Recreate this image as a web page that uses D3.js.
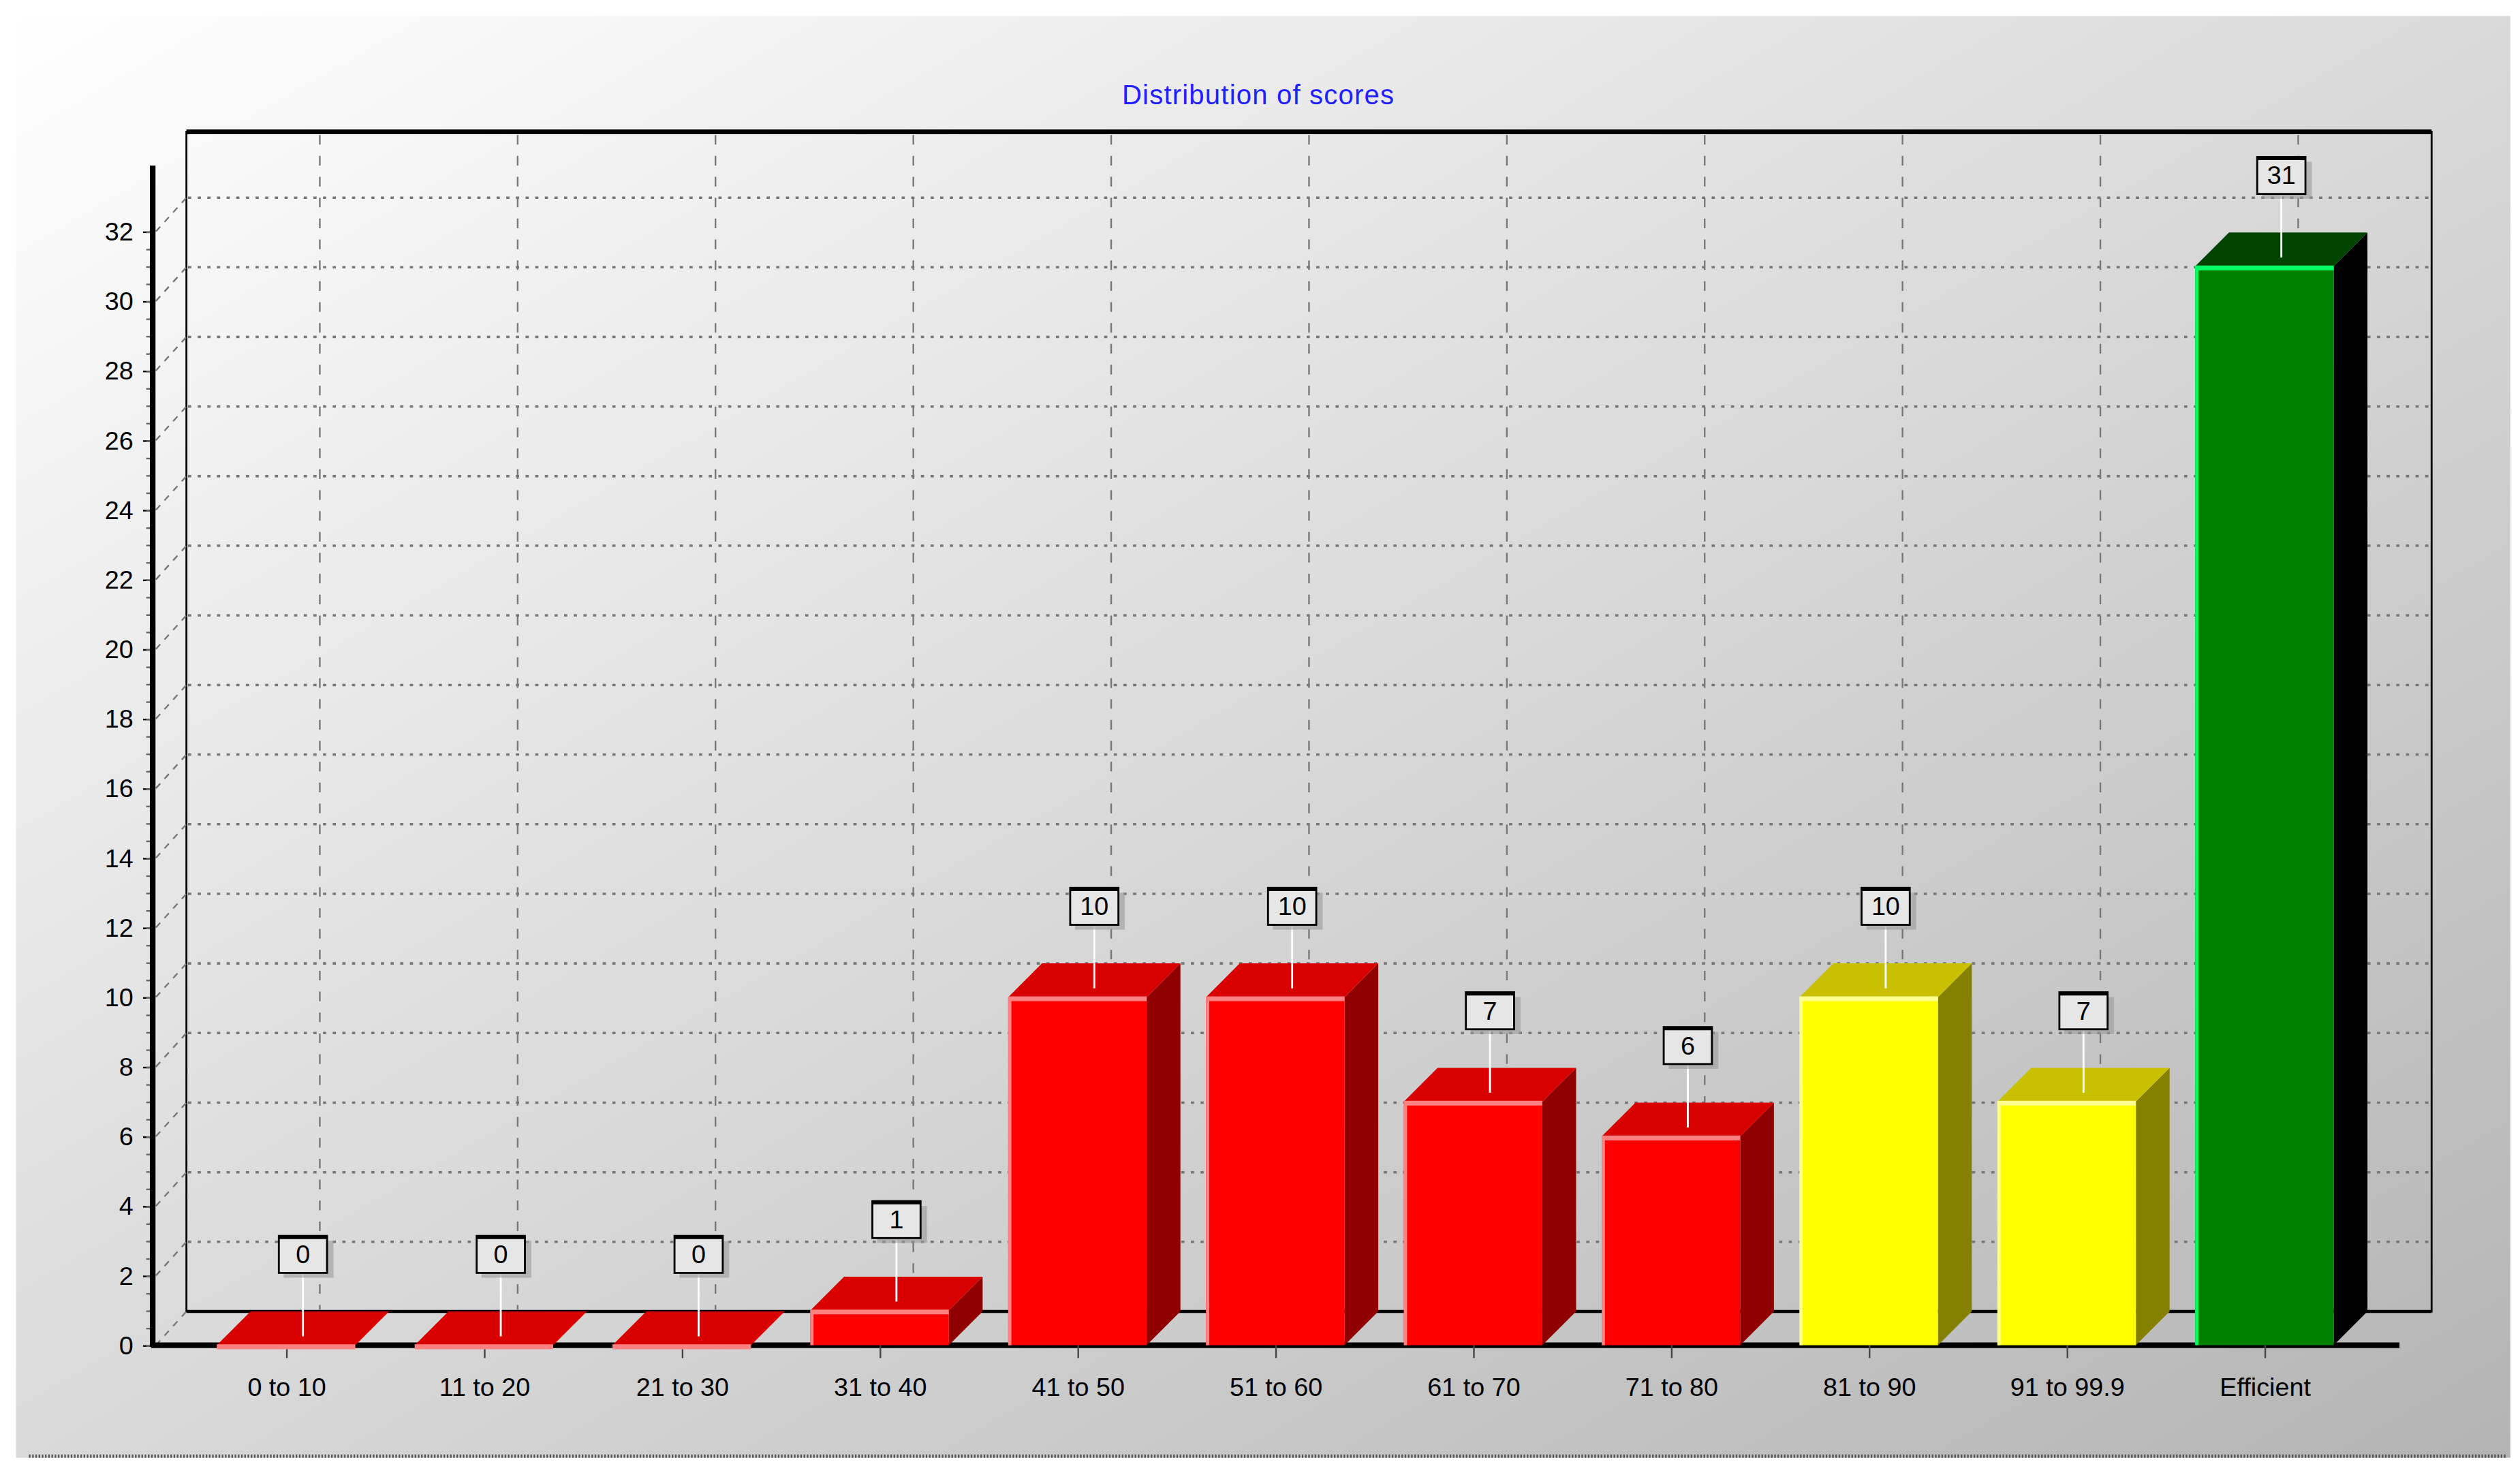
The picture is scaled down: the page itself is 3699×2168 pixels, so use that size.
<!DOCTYPE html>
<html><head><meta charset="utf-8">
<script src="https://cdn.jsdelivr.net/npm/d3@7"></script>
<style>body{margin:0;background:#fff}svg{display:block}</style>
</head><body>
<svg id="chart" width="3699" height="2168" viewBox="0 0 1568 919"></svg>
<script>
const categories = ['0 to 10', '11 to 20', '21 to 30', '31 to 40', '41 to 50', '51 to 60', '61 to 70', '71 to 80', '81 to 90', '91 to 99.9', 'Efficient']
const values = [0, 0, 0, 1, 10, 10, 7, 6, 10, 7, 31]
const groups = ['red', 'red', 'red', 'red', 'red', 'red', 'red', 'red', 'yellow', 'yellow', 'green']
const yTicks = [0, 2, 4, 6, 8, 10, 12, 14, 16, 18, 20, 22, 24, 26, 28, 30, 32]

const palette = {
  red: { front: '#ff0000', top: '#d80000', side: '#900000', edge: '#ff8080' },
  yellow: { front: '#ffff00', top: '#c8c000', side: '#858000', edge: '#ffff90' },
  green: { front: '#008000', top: '#004400', side: '#000000', edge: '#00ff66' }
}
const depth = 21
const svg = d3.select('#chart')

const defs = svg.append('defs')
const bg = defs.append('linearGradient').attr('id', 'bg')
  .attr('x1', '0').attr('y1', '0').attr('x2', '1').attr('y2', '1')
bg.append('stop').attr('offset', '0').attr('stop-color', '#ffffff')
bg.append('stop').attr('offset', '1').attr('stop-color', '#b4b4b4')

svg.append('rect').attr('width', 1568).attr('height', 919).attr('fill', '#fff')
svg.append('rect').attr('x', 10).attr('y', 10).attr('width', 1552).attr('height', 897).attr('fill', 'url(#bg)')
svg.append('line').attr('x1', 18).attr('x2', 1560).attr('y1', 906).attr('y2', 906)
  .attr('stroke', '#555').attr('stroke-width', 2).attr('stroke-dasharray', '1,1')

svg.append('text').attr('x', 783).attr('y', 65).attr('text-anchor', 'middle')
  .attr('font-family', 'Liberation Sans, Arial, sans-serif').attr('font-size', 17)
  .attr('fill', '#2020ff').attr('letter-spacing', 0.5).text('Distribution of scores')

const x = d3.scaleBand().domain(categories).range([116, 1470]).paddingInner(0.3).paddingOuter(0.15)
const xc = d3.scalePoint().domain(categories).range([178, 1409])
const y = d3.scaleLinear().domain([0, 32]).range([837, 144])

// back wall
const wall = svg.append('g')
wall.append('rect').attr('x', 116).attr('y', 82).attr('width', 1397).attr('height', 734)
  .attr('fill', 'none').attr('stroke', '#000').attr('stroke-width', 1.2)
wall.append('line').attr('x1', 116).attr('x2', 1513).attr('y1', 82).attr('y2', 82).attr('stroke', '#000').attr('stroke-width', 3)
wall.append('line').attr('x1', 116).attr('x2', 1513).attr('y1', 816).attr('y2', 816).attr('stroke', '#000').attr('stroke-width', 2)
wall.selectAll('.hg').data(yTicks.filter(d => d > 0)).join('line')
  .attr('x1', 117).attr('x2', 1512)
  .attr('y1', d => y(d) - depth).attr('y2', d => y(d) - depth)
  .attr('stroke', '#777').attr('stroke-width', 1.5).attr('stroke-dasharray', '2,4')
wall.selectAll('.vg').data(categories).join('line')
  .attr('x1', d => xc(d) + depth).attr('x2', d => xc(d) + depth)
  .attr('y1', 84).attr('y2', 815)
  .attr('stroke', '#777').attr('stroke-width', 1).attr('stroke-dasharray', '6,7')
wall.selectAll('.dg').data(yTicks).join('line')
  .attr('x1', 97).attr('x2', 116)
  .attr('y1', d => y(d)).attr('y2', d => y(d) - depth)
  .attr('stroke', '#777').attr('stroke-width', 1).attr('stroke-dasharray', '4,4')

// front axes
const yAxis = d3.axisLeft(y).tickValues(yTicks).tickSize(6).tickPadding(6)
const ya = svg.append('g').attr('transform', 'translate(95,0)').call(yAxis)
ya.select('.domain').remove()
ya.selectAll('text').attr('font-family', 'Liberation Sans, Arial, sans-serif').attr('font-size', 16).attr('fill', '#000')
svg.append('g').attr('transform', 'translate(95,0)')
  .call(d3.axisLeft(y).ticks(64).tickSize(4).tickFormat(''))
  .call(g => g.select('.domain').remove())
  .selectAll('line').attr('stroke', '#666')
svg.append('line').attr('x1', 95).attr('x2', 95).attr('y1', 103).attr('y2', 838).attr('stroke', '#000').attr('stroke-width', 3.5)
svg.append('line').attr('x1', 94).attr('x2', 1493).attr('y1', 837).attr('y2', 837).attr('stroke', '#000').attr('stroke-width', 3.5)

const xa = svg.append('g').attr('transform', 'translate(0,837)')
  .call(d3.axisBottom(xc).tickSize(8).tickPadding(12))
xa.select('.domain').remove()
xa.selectAll('line').attr('stroke', '#444')
xa.selectAll('text').attr('font-family', 'Liberation Sans, Arial, sans-serif').attr('font-size', 16).attr('fill', '#000')

// bars
const bars = svg.append('g').selectAll('g').data(categories).join('g')
bars.each(function (c, i) {
  const g = d3.select(this)
  const p = palette[groups[i]]
  const x0 = xc(c) - x.bandwidth() / 2
  const w = x.bandwidth()
  const yt = y(values[i])
  const yb = y(0)
  g.append('path').attr('fill', p.side)
    .attr('d', `M${x0 + w},${yt}L${x0 + w + depth},${yt - depth}L${x0 + w + depth},${yb - depth}L${x0 + w},${yb}Z`)
  g.append('path').attr('fill', p.top)
    .attr('d', `M${x0},${yt}L${x0 + depth},${yt - depth}L${x0 + w + depth},${yt - depth}L${x0 + w},${yt}Z`)
  g.append('rect').attr('x', x0).attr('y', yt).attr('width', w).attr('height', Math.max(0, yb - yt)).attr('fill', p.front)
  g.append('line').attr('x1', x0).attr('x2', x0 + w).attr('y1', yt + 1).attr('y2', yt + 1).attr('stroke', p.edge).attr('stroke-width', 3)
  g.append('line').attr('x1', x0 + 1).attr('x2', x0 + 1).attr('y1', yt).attr('y2', yb).attr('stroke', p.edge).attr('stroke-width', 2)

  // value label
  const cx = xc(c) + depth / 2
  const by = yt - depth - 36
  g.append('line').attr('x1', cx).attr('x2', cx).attr('y1', yt - depth / 2 + 5).attr('y2', by + 13)
    .attr('stroke', '#fff').attr('stroke-width', 1.2)
  g.append('rect').attr('x', cx - 15 + 3).attr('y', by - 11 + 3).attr('width', 31).attr('height', 23).attr('fill', '#999').attr('opacity', 0.6)
  g.append('rect').attr('x', cx - 15).attr('y', by - 11).attr('width', 30).attr('height', 23)
    .attr('fill', '#e6e6e6').attr('stroke', '#000').attr('stroke-width', 1.2)
  g.append('line').attr('x1', cx - 15).attr('x2', cx + 15).attr('y1', by - 10).attr('y2', by - 10).attr('stroke', '#000').attr('stroke-width', 2)
  g.append('text').attr('x', cx).attr('y', by + 6).attr('text-anchor', 'middle')
    .attr('font-family', 'Liberation Sans, Arial, sans-serif').attr('font-size', 16).text(values[i])
})
</script>
</body></html>
